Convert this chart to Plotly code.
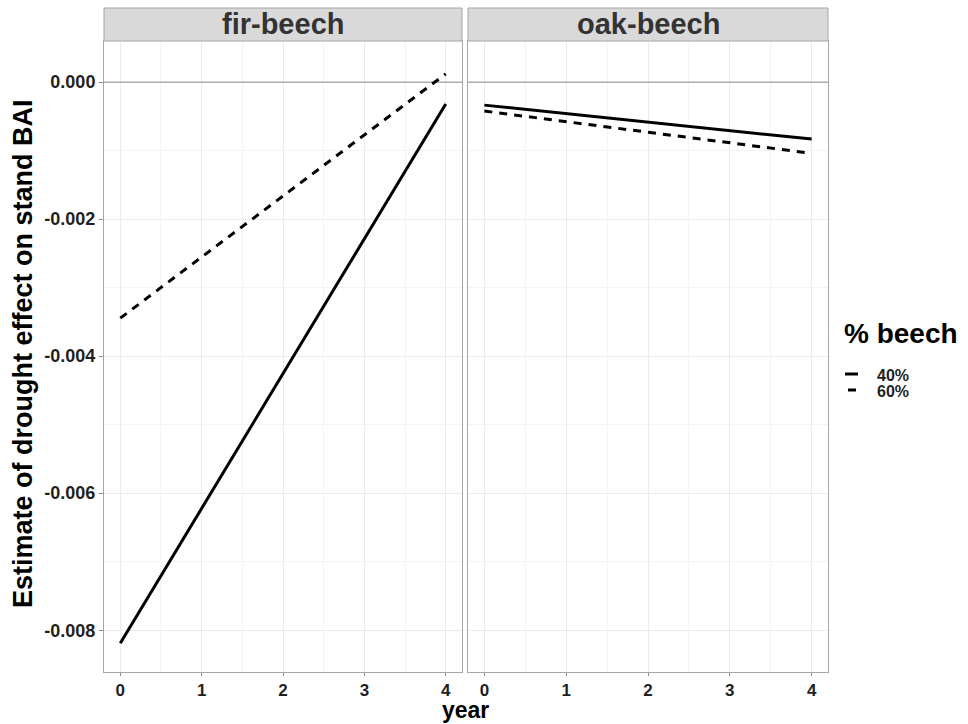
import plotly.graph_objects as go

# ---- data ----
years = [0, 4]
panels = ["fir-beech", "oak-beech"]
fir_40 = [-0.00819, -0.00032]
fir_60 = [-0.003445, 0.00012]
oak_40 = [-0.000336, -0.000832]
oak_60 = [-0.000423, -0.00104]
legend_title = "% beech"
groups = ["40%", "60%"]
x_ticks = [0, 1, 2, 3, 4]
y_ticks = [0, -0.002, -0.004, -0.006, -0.008]
y_ticktext = ["0.000", "-0.002", "-0.004", "-0.006", "-0.008"]
x_title = "year"
y_title = "Estimate of drought effect on stand BAI"

# ---- layout helpers ----
W, H = 968, 724
FONT = "Liberation Sans, Arial, sans-serif"
def fx(p):
    return p / W
def fy(p):
    return 1 - p / H

dom1 = [fx(104), fx(462)]
dom2 = [fx(468), fx(828)]
ydom = [fy(672), fy(41)]

fig = go.Figure()
dash_style = "8px,7px"
series = [
    (fir_40, "x", "y", "solid"),
    (fir_60, "x", "y", dash_style),
    (oak_40, "x2", "y2", "solid"),
    (oak_60, "x2", "y2", dash_style),
]
for vals, xa, ya, dsh in series:
    fig.add_trace(go.Scatter(
        x=years, y=vals, xaxis=xa, yaxis=ya, mode="lines",
        line=dict(color="black", width=3, dash=dsh),
        showlegend=False, hoverinfo="skip"))

grid_major = "#EBEBEB"
grid_minor = "#F4F4F4"
border = "#A6A6A6"
ytickfont = dict(family=FONT, size=18, color="#1f1f1f", weight="bold")
xtickfont = dict(family=FONT, size=17, color="#1f1f1f", weight="bold")

xcommon = dict(range=[-0.2, 4.2], tickvals=x_ticks, ticks="outside", ticklen=3,
               tickcolor="#8C8C8C", showline=True, mirror=True, linecolor=border,
               linewidth=1, showgrid=True, gridcolor=grid_major, gridwidth=1,
               minor=dict(tick0=0, dtick=0.5, showgrid=True, gridcolor=grid_minor, ticks=""),
               zeroline=False, tickfont=xtickfont, fixedrange=True)
ycommon = dict(range=[-0.00861, 0.0006], tickvals=y_ticks, showline=True, mirror=True,
               linecolor=border, linewidth=1, showgrid=True, gridcolor=grid_major,
               minor=dict(tick0=0, dtick=0.001, showgrid=True, gridcolor=grid_minor, ticks=""),
               zeroline=False, domain=ydom, fixedrange=True)

fig.update_layout(
    width=W, height=H, margin=dict(l=0, r=0, t=0, b=0),
    plot_bgcolor="white", paper_bgcolor="white",
    xaxis=dict(domain=dom1, anchor="y", **xcommon),
    xaxis2=dict(domain=dom2, anchor="y2", **xcommon),
    yaxis=dict(anchor="x", ticktext=y_ticktext, ticks="outside", ticklen=4,
               tickcolor="#8C8C8C", tickfont=ytickfont, **ycommon),
    yaxis2=dict(anchor="x2", matches="y", showticklabels=False, ticks="", **ycommon),
    showlegend=False,
)

# horizontal reference line at zero
for xa, ya in [("x", "y"), ("x2", "y2")]:
    fig.add_shape(type="line", xref=xa, yref=ya, x0=-0.2, x1=4.2, y0=0, y1=0,
                  line=dict(color="#8C8C8C", width=1), layer="between")

# strips
for dom, name in zip([dom1, dom2], panels):
    fig.add_shape(type="rect", xref="paper", yref="paper", x0=dom[0], x1=dom[1],
                  y0=fy(41), y1=fy(8), fillcolor="#D9D9D9",
                  line=dict(color=border, width=1), layer="above")
    fig.add_annotation(text=name, xref="paper", yref="paper", x=(dom[0] + dom[1]) / 2,
                       y=fy(24.5), xanchor="center", yanchor="middle", showarrow=False,
                       font=dict(family=FONT, size=29, color="#333333", weight="bold"))

# axis titles
fig.add_annotation(text=x_title, xref="paper", yref="paper", x=fx(465), y=0,
                   xanchor="center", yanchor="bottom", showarrow=False, borderpad=0,
                   font=dict(family=FONT, size=23, color="black", weight="bold"))
fig.add_annotation(text=y_title, xref="paper", yref="paper", x=fx(23), y=fy(354),
                   xanchor="center", yanchor="middle", showarrow=False, textangle=-90,
                   font=dict(family=FONT, size=27, color="black", weight="bold"))

# legend (drawn manually to match the short keys)
fig.add_annotation(text=legend_title, xref="paper", yref="paper", x=fx(842), y=fy(333),
                   xanchor="left", yanchor="middle", showarrow=False,
                   font=dict(family=FONT, size=28, color="black", weight="bold"))
key_y = [374, 390]
key_x = [(845, 858), (848, 856)]
for lab, ky, (k0, k1) in zip(groups, key_y, key_x):
    fig.add_shape(type="line", xref="paper", yref="paper", x0=fx(k0), x1=fx(k1),
                  y0=fy(ky), y1=fy(ky), line=dict(color="black", width=3))
    fig.add_annotation(text=lab, xref="paper", yref="paper", x=fx(875), y=fy(ky + 1),
                       xanchor="left", yanchor="middle", showarrow=False,
                       font=dict(family=FONT, size=16, color="#1f1f1f", weight="bold"))

fig.write_html("out.html", config={"displayModeBar": False},
               post_script="document.body.style.margin='0';")
